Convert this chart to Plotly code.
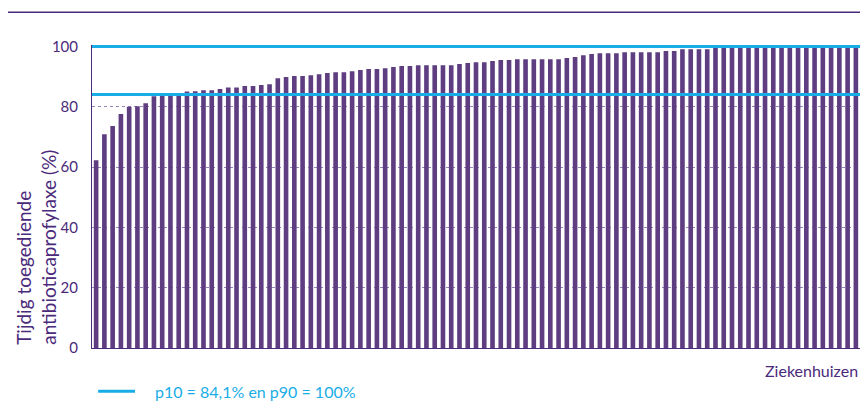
import plotly.graph_objects as go

# Tijdig toegediende antibioticaprofylaxe per ziekenhuis (%), gesorteerd
percentages = [
    62.3, 70.9, 73.6, 77.6, 80.0, 80.2, 81.2, 83.5, 83.9, 84.3,
    84.6, 85.1, 85.2, 85.5, 85.5, 85.9, 86.4, 86.4, 86.9, 86.9,
    87.2, 87.5, 89.5, 89.9, 90.2, 90.2, 90.5, 90.8, 91.2, 91.5,
    91.5, 91.8, 92.2, 92.5, 92.5, 92.8, 93.2, 93.5, 93.5, 93.8,
    93.8, 93.8, 93.8, 93.8, 94.2, 94.5, 94.8, 94.8, 95.2, 95.5,
    95.5, 95.8, 95.8, 95.8, 95.8, 95.8, 95.8, 96.2, 96.5, 97.1,
    97.5, 97.8, 97.8, 97.8, 98.1, 98.1, 98.1, 98.1, 98.1, 98.5,
    98.5, 99.1, 99.1, 99.1, 99.1, 100, 100, 100, 100, 100,
    100, 100, 100, 100, 100, 100, 100, 100, 100, 100,
    100, 100, 100,
]
hospitals = list(range(1, len(percentages) + 1))
p10 = 84.1
p90 = 100
legend_label = "p10 = 84,1% en p90 = 100%"

PURPLE = "#5e3d81"
TEXT = "#4b2a7b"
BLUE = "#18ade6"

fig = go.Figure()

fig.add_trace(go.Bar(
    x=hospitals,
    y=percentages,
    marker=dict(color=PURPLE, line=dict(width=0)),
    showlegend=False,
    hoverinfo="y",
))

# p10 / p90 reference lines across the whole plot width
fig.add_trace(go.Scatter(
    x=[0, 1, None, 0, 1],
    y=[p10, p10, None, p90, p90],
    xaxis="x2",
    mode="lines",
    line=dict(color=BLUE, width=3),
    name=legend_label,
    showlegend=False,
    hoverinfo="skip",
))

fig.update_layout(
    width=852,
    height=394,
    margin=dict(l=84, r=0, t=37, b=54),
    paper_bgcolor="white",
    plot_bgcolor="white",
    font=dict(family="Lato, sans-serif", color=TEXT, size=15),
    bargap=0.44,
    xaxis=dict(
        range=[0.5, len(percentages) + 0.5],
        showticklabels=False,
        ticks="",
        showgrid=False,
        showline=True,
        linecolor=TEXT,
        linewidth=1,
        zeroline=False,
    ),
    xaxis2=dict(
        range=[0, 1],
        overlaying="x",
        visible=False,
    ),
    yaxis=dict(
        range=[0, 100.5],
        tickvals=[0, 20, 40, 60, 80, 100],
        showgrid=True,
        gridcolor="#9a85b8",
        griddash="dot",
        gridwidth=1,
        showline=True,
        linecolor=TEXT,
        linewidth=1,
        zeroline=False,
        ticks="",
        ticklabelstandoff=10,
        tickfont=dict(size=15, color=TEXT),
    ),
    shapes=[
        # decorative rule above the chart
        dict(type="line", xref="paper", yref="paper",
             x0=-0.11, x1=1.0, y0=1.108, y1=1.108,
             line=dict(color=TEXT, width=1.5)),
        # legend key
        dict(type="line", xref="paper", yref="paper",
             x0=0.008, x1=0.056, y0=-0.143, y1=-0.143,
             line=dict(color=BLUE, width=3)),
    ],
    annotations=[
        dict(text=legend_label, xref="paper", yref="paper",
             x=0.08, y=-0.143, xanchor="left", yanchor="middle",
             showarrow=False, font=dict(size=16, color=BLUE)),
        dict(text="Ziekenhuizen", xref="paper", yref="paper",
             x=1.0, y=-0.036, xanchor="right", yanchor="top",
             showarrow=False, font=dict(size=16, color=TEXT)),
        dict(text="Tijdig toegediende<br>antibioticaprofylaxe (%)",
             xref="paper", yref="paper", x=-0.107, y=0.005,
             xanchor="left", yanchor="bottom", align="left",
             textangle=-90, showarrow=False,
             font=dict(size=19, color=TEXT)),
    ],
)

fig.write_html("out.html")
